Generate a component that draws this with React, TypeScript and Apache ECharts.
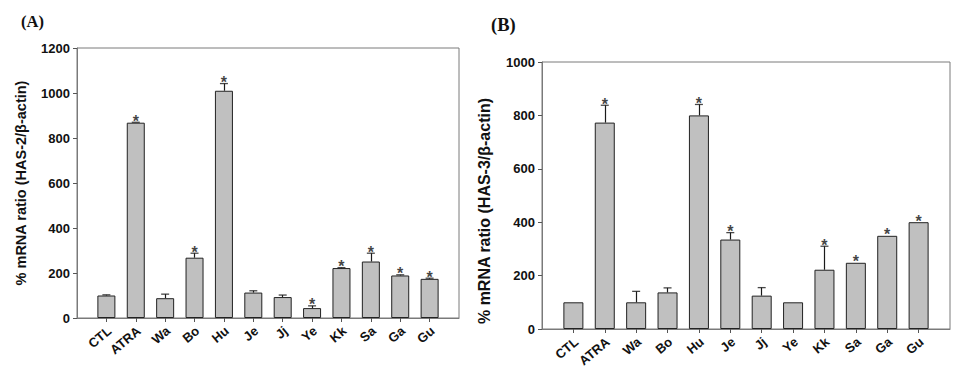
import React, { useEffect, useRef } from "react";
import * as echarts from "echarts";

const categories = ["CTL", "ATRA", "Wa", "Bo", "Hu", "Je", "Jj", "Ye", "Kk", "Sa", "Ga", "Gu"];

const has2Mean = [100, 868, 88, 268, 1010, 113, 93, 44, 222, 251, 189, 174];
const has2Err = [3, 2, 18, 20, 32, 8, 9, 10, 2, 37, 3, 3];
const has2Sig = [false, true, false, true, true, false, false, true, true, true, true, true];

const has3Mean = [100, 773, 100, 137, 800, 335, 125, 100, 222, 248, 349, 400];
const has3Err = [0, 65, 41, 17, 41, 26, 30, 0, 88, 0, 0, 0];
const has3Sig = [false, true, false, false, true, true, false, false, true, true, true, true];

const yTicksA = { min: 0, max: 1200, interval: 200 };
const yTicksB = { min: 0, max: 1000, interval: 200 };

const panelLabels = ["(A)", "(B)"];
const yTitles = ["% mRNA ratio (HAS-2/\u03b2-actin)", "% mRNA ratio (HAS-3/\u03b2-actin)"];

const SANS = "Liberation Sans, Arial, sans-serif";
const SERIF = "Liberation Serif, Times New Roman, serif";

const paddedCats = ["", ...categories, ""];
const pad = (arr: number[]) => ["-", ...arr, "-"] as any[];

function barSeries(gridIdx: number, means: number[], errs: number[], width: number) {
  const lines: any[] = [];
  means.forEach((m, i) => {
    if (errs[i] > 0) lines.push([{ coord: [i + 1, m] }, { coord: [i + 1, m + errs[i]] }]);
  });
  return {
    type: "bar",
    xAxisIndex: gridIdx,
    yAxisIndex: gridIdx,
    data: pad(means),
    barWidth: width,
    itemStyle: { color: "#c0c0c0", borderColor: "#222", borderWidth: 1 },
    markLine: {
      silent: true,
      animation: false,
      symbol: ["none", "none"],
      label: { show: false },
      lineStyle: { color: "#1a1a1a", width: 1.2, type: "solid" },
      emphasis: { disabled: true },
      data: lines,
    },
  };
}

function capSeries(gridIdx: number, means: number[], errs: number[]) {
  const data: any[] = [];
  means.forEach((m, i) => {
    if (errs[i] > 0) data.push([i + 1, m + errs[i]]);
  });
  return {
    type: "scatter",
    xAxisIndex: gridIdx,
    yAxisIndex: gridIdx,
    z: 5,
    silent: true,
    symbol: "rect",
    symbolSize: [8, 1.3],
    itemStyle: { color: "#1a1a1a" },
    data,
  };
}

function sigSeries(gridIdx: number, means: number[], errs: number[], sigs: boolean[]) {
  const data: any[] = [];
  means.forEach((m, i) => {
    if (sigs[i]) data.push([i + 1, m + errs[i]]);
  });
  return {
    type: "scatter",
    xAxisIndex: gridIdx,
    yAxisIndex: gridIdx,
    z: 6,
    silent: true,
    symbol: "circle",
    symbolSize: 1,
    itemStyle: { color: "rgba(0,0,0,0)" },
    label: {
      show: true,
      position: "inside",
      offset: [0, -1],
      formatter: "*",
      fontSize: 16,
      fontWeight: "bold",
      fontFamily: SANS,
      color: "#111",
    },
    data,
  };
}

function labelSeries(gridIdx: number) {
  return {
    type: "custom",
    xAxisIndex: gridIdx,
    yAxisIndex: gridIdx,
    z: 5,
    clip: false,
    silent: true,
    encode: { x: 0, y: 1 },
    data: categories.map((c, i) => [i + 1, 0]),
    renderItem: (params: any, api: any) => {
      const p = api.coord([api.value(0), 0]);
      return {
        type: "group",
        x: p[0] + 3,
        y: p[1] + 11,
        rotation: (40 * Math.PI) / 180,
        children: [
          {
            type: "text",
            x: 0,
            y: 0,
            style: { text: categories[params.dataIndex], fill: "#111", font: `bold 13px ${SANS}`, align: "right", verticalAlign: "middle" },
          },
        ],
      };
    },
  };
}

function xAxisFor(gridIdx: number) {
  return {
    type: "category",
    gridIndex: gridIdx,
    data: paddedCats,
    boundaryGap: false,
    axisLine: { lineStyle: { color: "#7a7a7a", width: 1 } },
    axisTick: { length: 4, lineStyle: { color: "#555" }, interval: (idx: number) => idx > 0 && idx < paddedCats.length - 1 },
    axisLabel: { show: false },
    splitLine: { show: false },
  };
}

function yAxisFor(gridIdx: number, t: { min: number; max: number; interval: number }, name: string, fontSize: number, gap: number, padding: number[]) {
  return {
    type: "value",
    gridIndex: gridIdx,
    min: t.min,
    max: t.max,
    interval: t.interval,
    name,
    nameLocation: "middle",
    nameGap: gap,
    nameTextStyle: { fontSize, fontWeight: "bold", fontFamily: SANS, color: "#111", padding },
    axisLine: { show: true, lineStyle: { color: "#7a7a7a", width: 1 } },
    axisTick: { show: true, length: 4, lineStyle: { color: "#555" } },
    axisLabel: { fontSize: 13, fontWeight: "bold", fontFamily: SANS, color: "#111", margin: 7, formatter: (v: number) => String(v) },
    splitLine: { show: false },
  };
}

export default function App() {
  const ref = useRef<HTMLDivElement>(null);
  useEffect(() => {
    if (!ref.current) return;
    const chart = echarts.init(ref.current, null, { renderer: "svg" });
    chart.setOption({
      animation: false,
      title: [
        { text: panelLabels[0], left: 21, top: 13, padding: 0, textStyle: { fontSize: 16.5, fontWeight: "bold", fontFamily: SERIF, color: "#111" } },
        { text: panelLabels[1], left: 491, top: 15, padding: 0, textStyle: { fontSize: 18.5, fontWeight: "bold", fontFamily: SERIF, color: "#111" } },
      ],
      grid: [
        { left: 77, top: 48, width: 382, height: 270, show: true, borderColor: "#7a7a7a", borderWidth: 1 },
        { left: 542, top: 62, width: 408, height: 267, show: true, borderColor: "#7a7a7a", borderWidth: 1 },
      ],
      xAxis: [xAxisFor(0), xAxisFor(1)],
      yAxis: [
        yAxisFor(0, yTicksA, yTitles[0], 14.5, 49, [0, 0, 0, 0]),
        yAxisFor(1, yTicksB, yTitles[1], 16, 50, [0, 31, 0, 0]),
      ],
      series: [
        barSeries(0, has2Mean, has2Err, 18),
        labelSeries(0),
        capSeries(0, has2Mean, has2Err),
        sigSeries(0, has2Mean, has2Err, has2Sig),
        barSeries(1, has3Mean, has3Err, 20),
        labelSeries(1),
        capSeries(1, has3Mean, has3Err),
        sigSeries(1, has3Mean, has3Err, has3Sig),
      ],
    });
    return () => chart.dispose();
  }, []);
  return <div ref={ref} style={{ position: "absolute", left: 0, top: 0, width: 957, height: 373 }} />;
}
